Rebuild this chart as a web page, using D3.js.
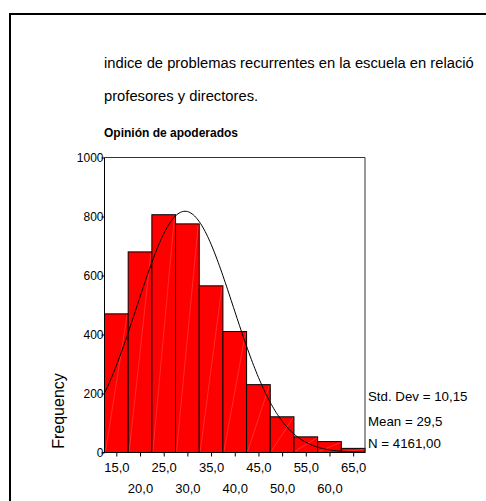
<!DOCTYPE html>
<html>
<head>
<meta charset="utf-8">
<script src="https://cdn.jsdelivr.net/npm/d3@7/dist/d3.min.js"></script>
<style>
  html, body { margin: 0; padding: 0; background: #fff; }
  svg { display: block; font-family: "Liberation Sans", Arial, sans-serif; }
</style>
</head>
<body>
<svg id="chart" width="486" height="501"></svg>
<script>
// Histogram of the index, bins of width 5 centred on these values
const binCenters = [15, 20, 25, 30, 35, 40, 45, 50, 55, 60, 65];
const counts     = [470, 680, 806, 775, 565, 410, 230, 121, 53, 37, 14];
const binWidth = 5;

// Axis ticks and labels
const yTicks = [0, 200, 400, 600, 800, 1000];
const xTickValues = [15, 20, 25, 30, 35, 40, 45, 50, 55, 60, 65];
const xTickLabels = ["15,0", "20,0", "25,0", "30,0", "35,0", "40,0", "45,0", "50,0", "55,0", "60,0", "65,0"];

// Summary statistics used for the fitted normal curve
const stdDev = 10.15;
const mean = 29.5;
const nCases = 4161;
const statLabels = ["Std. Dev = 10,15", "Mean = 29,5", "N = 4161,00"];
const statBaselines = [401, 426, 448];

const titleLines = [
  "indice de problemas recurrentes en la escuela en relació",
  "profesores y directores."
];
const subtitle = "Opinión de apoderados";

const svg = d3.select("#chart");

// outer frame (left and top edges)
svg.append("path")
  .attr("d", "M10,501 L10,14 L486,14")
  .attr("fill", "none")
  .attr("stroke", "#000")
  .attr("stroke-width", 2);

// titles
svg.selectAll("text.title").data(titleLines).enter().append("text")
  .attr("class", "title")
  .attr("x", 104)
  .attr("y", (d, i) => 68 + i * 33)
  .attr("font-size", 14.75)
  .attr("fill", "#000")
  .text(d => d);

svg.append("text")
  .attr("x", 104)
  .attr("y", 137)
  .attr("font-size", 12)
  .attr("font-weight", "bold")
  .text(subtitle);

const plot = { left: 104.5, right: 365, top: 157.5, bottom: 452.5 };

const x = d3.scaleLinear()
  .domain([binCenters[0] - binWidth / 2, binCenters[binCenters.length - 1] + binWidth / 2])
  .range([plot.left, plot.right]);
const y = d3.scaleLinear().domain([0, 1000]).range([plot.bottom, plot.top]);

const bins = binCenters.map((c, i) => ({ x0: c - binWidth / 2, x1: c + binWidth / 2, n: counts[i] }));

// bars
svg.append("g").selectAll("rect").data(bins).enter().append("rect")
  .attr("x", d => x(d.x0))
  .attr("y", d => y(d.n))
  .attr("width", d => x(d.x1) - x(d.x0))
  .attr("height", d => y(0) - y(d.n))
  .attr("fill", "#ff0000")
  .attr("stroke", "#000")
  .attr("stroke-width", 1);

// faint seams across each bar
svg.append("g").selectAll("line").data(bins).enter().append("line")
  .attr("x1", d => x(d.x0) + 1)
  .attr("y1", y(0) - 1)
  .attr("x2", d => x(d.x1) - 1)
  .attr("y2", d => y(d.n) + 1)
  .attr("stroke", "#ff9090")
  .attr("stroke-width", 0.5)
  .attr("opacity", 0.6);

// plot frame top and right
svg.append("path")
  .attr("d", `M${plot.left},${plot.top} L${plot.right},${plot.top} L${plot.right},${plot.bottom}`)
  .attr("fill", "none")
  .attr("stroke", "#333")
  .attr("stroke-width", 1);

// normal curve
const curveXs = d3.range(x.domain()[0], x.domain()[1] + 0.001, 0.25);
const pdf = v => nCases * binWidth / (stdDev * Math.sqrt(2 * Math.PI)) * Math.exp(-0.5 * ((v - mean) / stdDev) ** 2);
svg.append("path")
  .datum(curveXs)
  .attr("d", d3.line().x(v => x(v)).y(v => y(pdf(v))))
  .attr("fill", "none")
  .attr("stroke", "#000")
  .attr("stroke-width", 1);

// y axis
const yAxis = svg.append("g")
  .attr("transform", `translate(${plot.left},0)`)
  .call(d3.axisLeft(y).tickValues(yTicks).tickSize(3).tickPadding(-2).tickFormat(d3.format("d")));
yAxis.select(".domain").attr("stroke", "#000").attr("d", `M0,${plot.top}V${plot.bottom}`);
yAxis.selectAll("text").attr("font-size", 12).attr("font-family", "Liberation Sans, Arial, sans-serif").attr("fill", "#000");
yAxis.selectAll("line").attr("stroke", "#000");

// x axis
const xAxis = svg.append("g")
  .attr("transform", `translate(0,${plot.bottom})`)
  .call(d3.axisBottom(x).tickValues(xTickValues).tickSize(4)
    .tickFormat((d, i) => xTickLabels[i]));
xAxis.select(".domain").attr("stroke", "#000").attr("d", `M${plot.left - 2},0H${plot.right}`);
xAxis.selectAll("line").attr("stroke", "#000");
xAxis.selectAll("text")
  .attr("font-size", 13)
  .attr("font-family", "Liberation Sans, Arial, sans-serif")
  .attr("fill", "#000")
  .attr("dy", null)
  .attr("y", (d, i) => i % 2 === 0 ? 19 : 40);

// y axis title
svg.append("text")
  .attr("transform", "translate(63.5,411) rotate(-90)")
  .attr("text-anchor", "middle")
  .attr("font-size", 16)
  .text("Frequency");

// statistics
svg.selectAll("text.stat").data(statLabels).enter().append("text")
  .attr("class", "stat")
  .attr("x", 368)
  .attr("y", (d, i) => statBaselines[i])
  .attr("font-size", 13.3)
  .text(d => d);
</script>
</body>
</html>
